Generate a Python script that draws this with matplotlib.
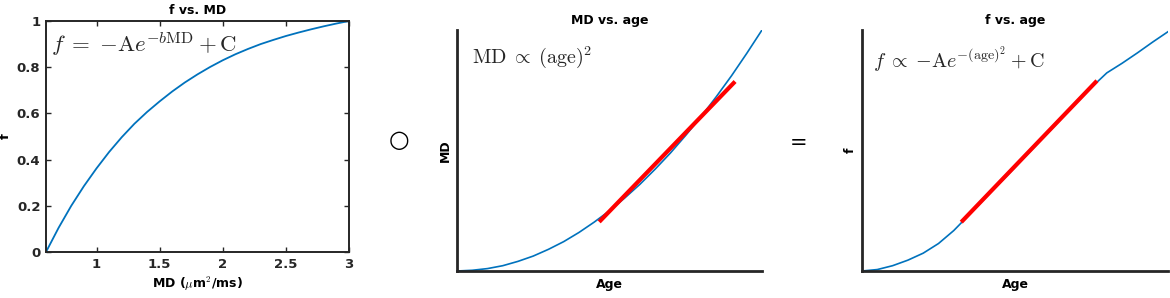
import matplotlib
matplotlib.use("Agg")
from matplotlib import pyplot as plt

plt.rcParams['font.family'] = ['DejaVu Sans']
plt.rcParams['font.weight'] = 'bold'
plt.rcParams['mathtext.fontset'] = 'cm'

# f vs MD
md = [0.6, 0.7, 0.8, 0.9, 1.0, 1.1, 1.2, 1.3, 1.4, 1.5, 1.6, 1.7, 1.8, 1.9, 2.0,
      2.1, 2.2, 2.3, 2.4, 2.5, 2.6, 2.7, 2.8, 2.9, 3.0]
f_md = [0.0, 0.105, 0.2, 0.285, 0.362, 0.433, 0.497, 0.555, 0.606, 0.652, 0.695,
        0.734, 0.769, 0.801, 0.83, 0.856, 0.879, 0.9, 0.918, 0.935, 0.95, 0.964,
        0.977, 0.989, 1.0]

# MD vs age (normalised units)
age2 = [0.0, 0.05, 0.1, 0.15, 0.2, 0.25, 0.3, 0.35, 0.4, 0.45, 0.5, 0.55, 0.6,
        0.65, 0.7, 0.75, 0.8, 0.85, 0.9, 0.95, 1.0]
md_age = [0.0, 0.003, 0.01, 0.022, 0.04, 0.062, 0.09, 0.122, 0.16, 0.203, 0.25,
          0.303, 0.36, 0.423, 0.49, 0.563, 0.64, 0.723, 0.81, 0.903, 1.0]
red2_x = [0.471, 0.907]
red2_y = [0.21, 0.78]

# f vs age (normalised units)
age3 = [0.0, 0.05, 0.1, 0.15, 0.2, 0.25, 0.3, 0.35, 0.4, 0.45, 0.5, 0.55, 0.6,
        0.65, 0.7, 0.75, 0.8, 0.85, 0.9, 0.95, 1.0]
f_age = [0.0, 0.006, 0.022, 0.045, 0.074, 0.114, 0.168, 0.233, 0.299, 0.365,
         0.43, 0.497, 0.563, 0.63, 0.697, 0.762, 0.822, 0.862, 0.905, 0.95, 0.993]
red3_x = [0.329, 0.763]
red3_y = [0.209, 0.783]

blue = '#0072BD'
dark = '#262626'

fig = plt.figure(figsize=(11.7, 2.98), dpi=100)
W, H = 1170, 298

def box(l, t, r, b):
    return [l / W, (H - b) / H, (r - l) / W, (b - t) / H]

# panel 1
ax1 = fig.add_axes(box(46, 21, 349, 252))
ax1.plot(md, f_md, color=blue, lw=1.3)
ax1.set_xlim(0.6, 3)
ax1.set_ylim(0, 1)
ax1.set_xticks([1, 1.5, 2, 2.5, 3])
ax1.set_xticklabels(['1', '1.5', '2', '2.5', '3'])
ax1.set_yticks([0, 0.2, 0.4, 0.6, 0.8, 1])
ax1.set_yticklabels(['0', '0.2', '0.4', '0.6', '0.8', '1'])
ax1.tick_params(direction='in', top=True, right=True, length=3.5, width=1,
                colors=dark, labelsize=9.5, pad=4)
for s in ax1.spines.values():
    s.set_linewidth(1.4)
    s.set_color(dark)
ax1.set_title('f vs. MD', fontsize=9, fontweight='bold', pad=5)
ax1.set_xlabel(r'MD ($\mu$m$^2$/ms)', fontsize=9, fontweight='bold', labelpad=3)
ax1.set_ylabel('f', fontsize=9.5, fontweight='bold')
ax1.yaxis.set_label_coords(-0.112, 0.5)
ax1.text(0.015, 0.96, r'$f\;=\;{-}\mathrm{A}e^{-b\mathrm{MD}} + \mathrm{C}$',
         transform=ax1.transAxes, fontsize=16.5, va='top', ha='left', color=dark)

# panel 2
ax2 = fig.add_axes(box(457, 30, 762, 271))
ax2.plot(age2, md_age, color=blue, lw=1.2)
ax2.plot(red2_x, red2_y, color='red', lw=3)
ax2.set_title('MD vs. age', fontsize=9, fontweight='bold', pad=4)
ax2.set_ylabel('MD', fontsize=9, fontweight='bold', labelpad=4)
ax2.set_xlabel('Age', fontsize=9, fontweight='bold', labelpad=5)
ax2.text(0.05, 0.94, r'$\mathrm{MD}\;\propto\;(\mathrm{age})^2$',
         transform=ax2.transAxes, fontsize=14.5, va='top', ha='left', color=dark)

# panel 3
ax3 = fig.add_axes(box(862, 30, 1168, 271))
ax3.plot(age3, f_age, color=blue, lw=1.2)
ax3.plot(red3_x, red3_y, color='red', lw=3)
ax3.set_title('f vs. age', fontsize=9, fontweight='bold', pad=4)
ax3.set_ylabel('f', fontsize=9, fontweight='bold', labelpad=4)
ax3.set_xlabel('Age', fontsize=9, fontweight='bold', labelpad=5)
ax3.text(0.035, 0.94,
         r'$f\;\propto\;{-}\mathrm{A}e^{-(\mathrm{age})^2} + \mathrm{C}$',
         transform=ax3.transAxes, fontsize=14.5, va='top', ha='left', color=dark)

for ax in (ax2, ax3):
    ax.set_xlim(0, 1)
    ax.set_ylim(0, 1)
    ax.set_xticks([])
    ax.set_yticks([])
    ax.spines['top'].set_visible(False)
    ax.spines['right'].set_visible(False)
    ax.spines['left'].set_linewidth(2)
    ax.spines['bottom'].set_linewidth(2)
    ax.spines['left'].set_color(dark)
    ax.spines['bottom'].set_color(dark)

fig.text(399 / W, 1 - 140 / H, '○', fontsize=17, ha='center', va='center',
         fontweight='normal')
fig.text(799 / W, 1 - 143 / H, '=', fontsize=15, ha='center', va='center',
         fontweight='normal')

fig.savefig('out.png', dpi=100)
